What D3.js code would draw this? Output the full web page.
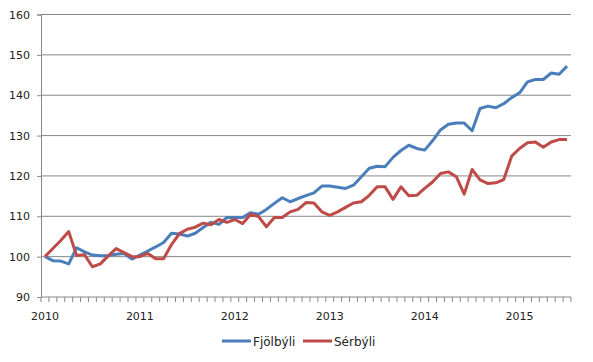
<!doctype html>
<html>
<head>
<meta charset="utf-8">
<script src="https://d3js.org/d3.v7.min.js"></script>
<style>
    body { margin: 0; background: #fff; }
    text { font-family: "DejaVu Sans", Verdana, sans-serif; fill: #222; }
</style>
</head>
<body>
<svg width="593" height="362"></svg>
<script>
// monthly index, Jan 2010 - Jul 2015
var yearLabels = ["2010", "2011", "2012", "2013", "2014", "2015"];
var yTicks = [90, 100, 110, 120, 130, 140, 150, 160];

var fjolbyli = [100, 99.0, 98.9, 98.2, 102.2, 101.2, 100.4, 100.2, 100.2, 100.6,
    100.8, 99.4, 100.4, 101.4, 102.4, 103.5, 105.8, 105.6, 105.1, 105.8,
    107.2, 108.5, 108.0, 109.7, 109.7, 109.7, 110.9, 110.5, 111.7, 113.2,
    114.6, 113.6, 114.4, 115.1, 115.8, 117.5, 117.5, 117.2, 116.9, 117.7,
    119.8, 121.9, 122.4, 122.3, 124.6, 126.3, 127.6, 126.8, 126.4, 128.7,
    131.4, 132.8, 133.1, 133.1, 131.2, 136.7, 137.3, 136.9, 137.9, 139.4,
    140.6, 143.3, 143.9, 143.9, 145.5, 145.2, 147.2];

var serbyli = [100, 102.0, 104.0, 106.2, 100.3, 100.5, 97.5, 98.2, 100.2, 102.0,
    101.0, 100.0, 100.0, 100.8, 99.5, 99.5, 103.0, 105.7, 106.8, 107.3,
    108.3, 107.9, 109.2, 108.5, 109.2, 108.2, 110.5, 109.9, 107.4, 109.7,
    109.7, 111.1, 111.7, 113.4, 113.3, 111.1, 110.2, 111.1, 112.2, 113.3,
    113.6, 115.2, 117.3, 117.3, 114.2, 117.3, 115.1, 115.2, 116.9, 118.5,
    120.6, 121.0, 119.8, 115.5, 121.6, 119.0, 118.1, 118.3, 119.1, 124.9,
    126.8, 128.2, 128.4, 127.1, 128.4, 129.0, 129.0];

var seriesNames = ["Fjölbýli", "Sérbýli"];
var colors = ["#4a7ebb", "#be4b48"];

var svg = d3.select("svg");
var plotLeft = 41, plotRight = 571, plotTop = 14.5, plotBottom = 297;

var months = d3.range(fjolbyli.length);

var x = d3.scaleBand().domain(months).range([plotLeft, plotRight]).padding(0);
var y = d3.scaleLinear().domain([90, 160]).range([plotBottom, plotTop]);

// gridlines
svg.append("g")
   .selectAll("line")
   .data(yTicks.slice(1))
   .enter().append("line")
   .attr("x1", plotLeft).attr("x2", plotRight)
   .attr("y1", function(d) { return y(d); })
   .attr("y2", function(d) { return y(d); })
   .attr("stroke", "#878787")
   .attr("stroke-width", 1);

// y axis
var yAxis = svg.append("g")
   .attr("transform", "translate(" + plotLeft + ",0)")
   .call(d3.axisLeft(y).tickValues(yTicks).tickSize(4).tickPadding(7));
yAxis.selectAll("path, line").attr("stroke", "#878787");
yAxis.selectAll("text").style("font-size", "11px").attr("fill", "#222")
   .style("font-family", "'DejaVu Sans', Verdana, sans-serif");

// x axis: tick marks between months, label on January
var xAxis = svg.append("g").attr("transform", "translate(0," + plotBottom + ")");
xAxis.append("line")
   .attr("x1", plotLeft).attr("x2", plotRight)
   .attr("stroke", "#878787");
xAxis.selectAll(".tk")
   .data(d3.range(months.length + 1))
   .enter().append("line")
   .attr("class", "tk")
   .attr("x1", function(d) { return plotLeft + d * x.step(); })
   .attr("x2", function(d) { return plotLeft + d * x.step(); })
   .attr("y1", 0).attr("y2", 5)
   .attr("stroke", "#878787");
xAxis.selectAll(".yl")
   .data(yearLabels)
   .enter().append("text")
   .attr("class", "yl")
   .attr("x", function(d, i) { return x(i * 12) + x.bandwidth() / 2; })
   .attr("y", 23)
   .attr("text-anchor", "middle")
   .style("font-size", "11px")
   .text(function(d) { return d; });

var line = d3.line()
   .x(function(d, i) { return x(i) + x.bandwidth() / 2; })
   .y(function(d) { return y(d); });

[fjolbyli, serbyli].forEach(function(s, k) {
    svg.append("path")
       .datum(s)
       .attr("d", line)
       .attr("fill", "none")
       .attr("stroke", colors[k])
       .attr("stroke-width", 3)
       .attr("stroke-linejoin", "round");
});

// legend
var legend = svg.append("g").attr("transform", "translate(0,341)");
var lx = [222, 303];
seriesNames.forEach(function(n, k) {
    legend.append("line")
       .attr("x1", lx[k]).attr("x2", lx[k] + 29)
       .attr("stroke", colors[k]).attr("stroke-width", 3);
    legend.append("text")
       .attr("x", lx[k] + 31).attr("y", 5)
       .style("font-size", "12px")
       .text(n);
});
</script>
</body>
</html>
